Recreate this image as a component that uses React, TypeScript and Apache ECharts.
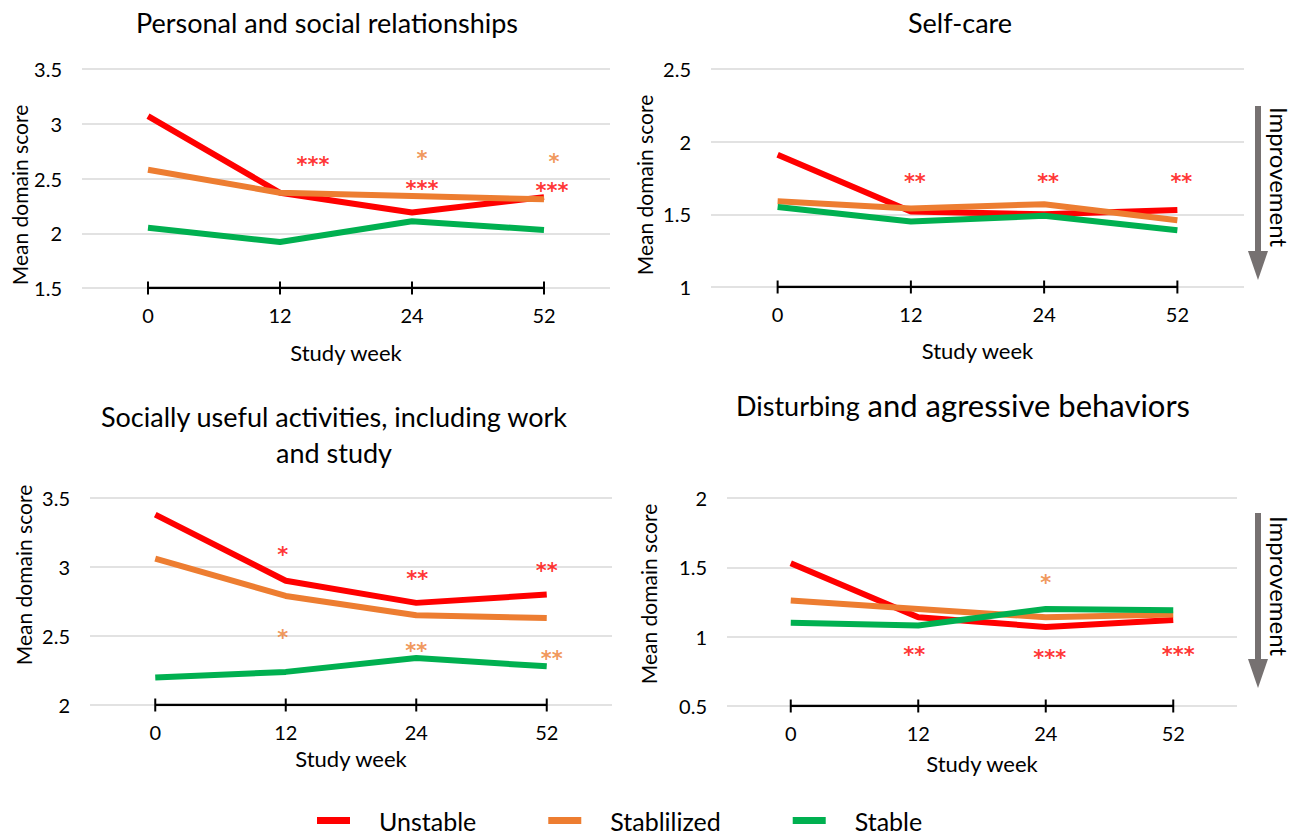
import React, { useEffect, useRef } from "react";
import * as echarts from "echarts";

// Study weeks on the x axis
const weeks = ["0", "12", "24", "52"];

// Group names
const groupNames = ["Unstable", "Stablilized", "Stable"];

// Personal and social relationships
const relUnstable = [3.07, 2.37, 2.19, 2.33];
const relStablilized = [2.58, 2.37, 2.34, 2.31];
const relStable = [2.05, 1.92, 2.11, 2.03];

// Self-care
const selfUnstable = [1.91, 1.52, 1.5, 1.53];
const selfStablilized = [1.59, 1.54, 1.57, 1.46];
const selfStable = [1.55, 1.45, 1.49, 1.39];

// Socially useful activities, including work and study
const workUnstable = [3.38, 2.9, 2.74, 2.8];
const workStablilized = [3.06, 2.79, 2.65, 2.63];
const workStable = [2.2, 2.24, 2.34, 2.28];

// Disturbing and agressive behaviors
const behUnstable = [1.53, 1.14, 1.07, 1.12];
const behStablilized = [1.26, 1.2, 1.14, 1.16];
const behStable = [1.1, 1.08, 1.2, 1.19];

// Significance marks: [week index, level on the score axis, stars, group index]
const relMarks = [
  [1, 2.67, "***", 0],
  [2, 2.72, "*", 1],
  [2, 2.45, "***", 0],
  [3, 2.7, "*", 1],
  [3, 2.43, "***", 0],
];
const selfMarks = [
  [1, 1.76, "**", 0],
  [2, 1.76, "**", 0],
  [3, 1.76, "**", 0],
];
const workMarks = [
  [1, 3.12, "*", 0],
  [2, 2.95, "**", 0],
  [3, 3.01, "**", 0],
  [1, 2.52, "*", 1],
  [2, 2.43, "**", 1],
  [3, 2.37, "**", 1],
];
const behMarks = [
  [1, 0.905, "**", 0],
  [2, 0.88, "***", 0],
  [3, 0.905, "***", 0],
  [2, 1.42, "*", 1],
];

const FONT = 'Lato, "Open Sans", "DejaVu Sans", sans-serif';
const MARK_FONT = '"DejaVu Sans", Lato, sans-serif';
const COLORS = ["#FF0000", "#ED7D31", "#00B050"];
const GRID_COLOR = "#D9D9D9";
const ARROW_COLOR = "#767171";

// Panel layout (pixel boxes and axis ranges)
const panels = [
  {
    series: [relUnstable, relStablilized, relStable],
    marks: relMarks,
    markShift: [33, 10, 10, 10, 8],
    min: 1.5,
    max: 3.5,
    grid: { left: 82, top: 69, width: 528, height: 219 },
    nameGap: 53,
  },
  {
    series: [selfUnstable, selfStablilized, selfStable],
    marks: selfMarks,
    markShift: [4, 4, 4],
    min: 1,
    max: 2.5,
    grid: { left: 711, top: 69, width: 533, height: 218 },
    nameGap: 52,
  },
  {
    series: [workUnstable, workStablilized, workStable],
    marks: workMarks,
    markShift: [-3, 1, 0, -3, 0, 5],
    min: 2,
    max: 3.5,
    grid: { left: 90, top: 498, width: 522, height: 207 },
    nameGap: 42,
  },
  {
    series: [behUnstable, behStablilized, behStable],
    marks: behMarks,
    markShift: [-4, 4, 5, 0],
    min: 0.5,
    max: 2,
    grid: { left: 727, top: 498, width: 510, height: 208 },
    nameGap: 46,
  },
];

function buildOption() {
  const grid = panels.map((p) => ({ ...p.grid, containLabel: false }));

  const xAxis = panels.map((p, i) => ({
    type: "category",
    gridIndex: i,
    data: weeks,
    boundaryGap: true,
    axisLine: { show: false },
    axisTick: { show: false },
    axisLabel: { color: "#000", fontSize: 20, fontFamily: FONT, margin: 17 },
    name: "Study week",
    nameLocation: "middle",
    nameGap: p.nameGap,
    nameTextStyle: { color: "#000", fontSize: 22, fontFamily: FONT },
  }));

  const yAxis = panels.map((p, i) => ({
    type: "value",
    gridIndex: i,
    min: p.min,
    max: p.max,
    interval: 0.5,
    axisLine: { show: false },
    axisTick: { show: false },
    axisLabel: { color: "#000", fontSize: 20, fontFamily: FONT, margin: 20 },
    splitLine: { lineStyle: { color: GRID_COLOR, width: 1.5 } },
  }));

  const series: any[] = [];
  panels.forEach((p, i) => {
    // Baseline with cross ticks, from the first to the last week
    series.push({
      name: "baseline-" + i,
      type: "line",
      xAxisIndex: i,
      yAxisIndex: i,
      data: weeks.map(() => p.min),
      symbol: "rect",
      symbolSize: [2, 13],
      showSymbol: true,
      itemStyle: { color: "#000" },
      lineStyle: { color: "#000", width: 2.5 },
      silent: true,
      z: 1,
    });
    p.series.forEach((vals, g) => {
      series.push({
        name: groupNames[g],
        type: "line",
        xAxisIndex: i,
        yAxisIndex: i,
        data: vals,
        color: COLORS[g],
        symbol: "none",
        lineStyle: { color: COLORS[g], width: 6 },
        z: 3,
      });
    });
    series.push({
      name: "marks-" + i,
      type: "scatter",
      xAxisIndex: i,
      yAxisIndex: i,
      symbolSize: 1,
      itemStyle: { color: "rgba(0,0,0,0)" },
      silent: true,
      z: 4,
      data: p.marks.map((m: any, k: number) => ({
        value: [m[0], m[1]],
        label: {
          show: true,
          position: "inside",
          formatter: m[2],
          color: COLORS[m[3]],
          fontSize: 21,
          fontWeight: "bold",
          fontFamily: MARK_FONT,
          offset: [p.markShift[k], 5],
        },
      })),
    });
  });

  const titleStyle = { fill: "#000", fontFamily: FONT, fontSize: 27 };
  const graphic: any[] = [
    {
      type: "text",
      x: 327,
      y: 22,
      style: { ...titleStyle, text: "Personal and social relationships", align: "center", verticalAlign: "middle" },
    },
    {
      type: "text",
      x: 960,
      y: 22,
      style: { ...titleStyle, text: "Self-care", align: "center", verticalAlign: "middle" },
    },
    {
      type: "text",
      x: 334,
      y: 434,
      style: {
        ...titleStyle,
        text: "Socially useful activities, including work\nand study",
        align: "center",
        verticalAlign: "middle",
        lineHeight: 36,
      },
    },
    {
      type: "text",
      x: 963,
      y: 405,
      style: {
        fill: "#000",
        fontFamily: FONT,
        text: "{a|Disturbing}{b| and agressive behaviors}",
        align: "center",
        verticalAlign: "middle",
        rich: {
          a: { fontSize: 27, fontFamily: FONT, fill: "#000" },
          b: { fontSize: 31, fontFamily: FONT, fill: "#000" },
        },
      },
    },
  ];

  // Rotated y-axis titles
  const yNamePos = [
    [19, 195],
    [644, 185],
    [23, 575],
    [648, 594],
  ];
  yNamePos.forEach(([x, y]) => {
    graphic.push({
      type: "text",
      x,
      y,
      rotation: Math.PI / 2,
      style: {
        text: "Mean domain score",
        fill: "#000",
        fontFamily: FONT,
        fontSize: 21,
        align: "center",
        verticalAlign: "middle",
      },
    });
  });

  // "Improvement" arrows beside the right-hand panels
  const arrows = [
    { top: 106, headTop: 251, tip: 280, textY: 177 },
    { top: 513, headTop: 659, tip: 688, textY: 586 },
  ];
  arrows.forEach((a) => {
    graphic.push({
      type: "rect",
      shape: { x: 1255, y: a.top, width: 6, height: a.headTop - a.top + 1 },
      style: { fill: ARROW_COLOR },
    });
    graphic.push({
      type: "polygon",
      shape: {
        points: [
          [1248, a.headTop],
          [1268, a.headTop],
          [1258, a.tip],
        ],
      },
      style: { fill: ARROW_COLOR },
    });
    graphic.push({
      type: "text",
      x: 1279,
      y: a.textY,
      rotation: -Math.PI / 2,
      style: {
        text: "Improvement",
        fill: "#000",
        fontFamily: FONT,
        fontSize: 24,
        align: "center",
        verticalAlign: "middle",
      },
    });
  });

  return {
    animation: false,
    backgroundColor: "#fff",
    textStyle: { fontFamily: FONT },
    grid,
    xAxis,
    yAxis,
    legend: {
      data: groupNames,
      left: 317,
      top: 808,
      padding: 0,
      icon: "rect",
      itemWidth: 33,
      itemHeight: 7,
      itemGap: 72,
      selectedMode: false,
      textStyle: {
        color: "#000",
        fontSize: 25,
        lineHeight: 20,
        fontFamily: FONT,
        padding: [0, 0, 0, 24],
      },
    },
    graphic,
    series,
  };
}

export default function App() {
  const ref = useRef<HTMLDivElement>(null);
  useEffect(() => {
    if (!ref.current) return;
    const chart = echarts.init(ref.current, undefined, { renderer: "svg" });
    chart.setOption(buildOption() as any);
    return () => chart.dispose();
  }, []);
  return (
    <div
      ref={ref}
      style={{ position: "fixed", left: 0, top: 0, width: 1293, height: 834, background: "#fff" }}
    />
  );
}
